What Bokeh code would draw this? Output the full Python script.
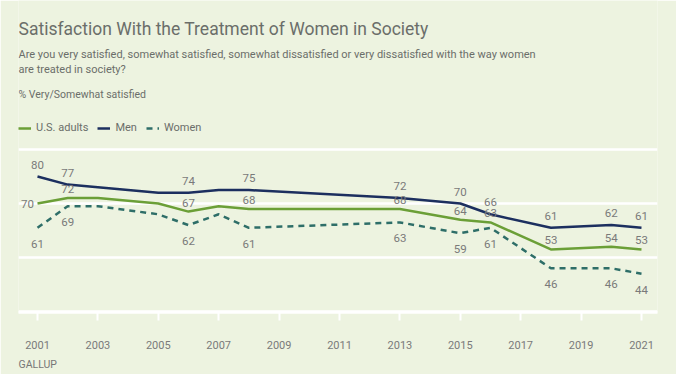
from bokeh.plotting import figure
from bokeh.models import Label, Legend, LegendItem, FixedTicker, Range1d, Title
from bokeh.core.properties import value
from bokeh.embed import file_html
from bokeh.resources import INLINE

# ---- data ----
years = [2001, 2002, 2003, 2005, 2006, 2007, 2008, 2013, 2015, 2016, 2018, 2020, 2021]
us_adults = [70, 72, 72, 70, 67, 69, 68, 68, 64, 63, 53, 54, 53]
men = [80, 77, 76, 74, 74, 75, 75, 72, 70, 66, 61, 62, 61]
women = [61, 69, 69, 66, 62, 66, 61, 63, 59, 61, 46, 46, 44]
labeled_years = [2001, 2002, 2006, 2008, 2013, 2015, 2016, 2018, 2020, 2021]
tick_years = list(range(2001, 2022, 2))
grid_values = [30, 50, 70, 90]

title = "Satisfaction With the Treatment of Women in Society"
subtitle1 = "Are you very satisfied, somewhat satisfied, somewhat dissatisfied or very dissatisfied with the way women"
subtitle2 = "are treated in society?"
measure = "% Very/Somewhat satisfied"
source_note = "GALLUP"

# ---- style ----
BG = "#edf3e0"
GREEN = "#6b9f37"
NAVY = "#1c2f5f"
TEAL = "#2e6e68"
TXT = "#6b6e6a"
LBL = "#7a7a7a"
FONT = "Roboto"
NUMFONT = "Roboto"

W, H = 676, 374
LEFT, RIGHT, BOTTOM = 18, 19, 62
# frame spans from the canvas top down to the axis; y range extended upward
Y_BOTTOM, PX_PER_UNIT = 29.63, 2.7
Y_TOP = Y_BOTTOM + (H - BOTTOM) / PX_PER_UNIT

p = figure(width=W, height=H, output_backend="svg", toolbar_location=None,
           x_range=Range1d(2000.371, 2021.53), y_range=Range1d(Y_BOTTOM, Y_TOP),
           min_border_left=LEFT, min_border_right=RIGHT,
           min_border_top=0, min_border_bottom=BOTTOM,
           background_fill_color=BG, border_fill_color=BG, outline_line_color=None)

p.yaxis.visible = False
p.ygrid.ticker = FixedTicker(ticks=grid_values)
p.ygrid.grid_line_color = "white"
p.ygrid.grid_line_width = 2.5
p.xgrid.grid_line_color = None

xa = p.xaxis[0]
xa.ticker = FixedTicker(ticks=tick_years)
xa.axis_line_color = "white"
xa.axis_line_width = 2.5
xa.major_tick_line_color = "white"
xa.major_tick_line_width = 2
xa.major_tick_in = 0
xa.major_tick_out = 8
xa.minor_tick_line_color = None
xa.major_label_text_font = NUMFONT
xa.major_label_text_font_size = "11px"
xa.major_label_text_color = LBL
xa.major_label_standoff = 20

r_us = p.line(years, us_adults, line_color=GREEN, line_width=2.5)
r_men = p.line(years, men, line_color=NAVY, line_width=2.5)
r_w = p.line(years, women, line_color=TEAL, line_width=2.5, line_dash="6 5")

# data labels
def pick(vals):
    xs, ys = [], []
    for yr, v in zip(years, vals):
        if yr in labeled_years:
            xs.append(yr)
            ys.append(v)
    return xs, ys

lab_kw = dict(text_font=value(NUMFONT), text_font_size="11.5px", text_color=LBL,
              text_align="center", text_baseline="middle")

mx, my = pick(men)
p.text(x=mx, y=my, text=[str(v) for v in my], y_offset=-12, **lab_kw)

ux, uy = pick(us_adults)
p.text(x=ux[1:], y=uy[1:], text=[str(v) for v in uy[1:]], y_offset=-9, **lab_kw)
p.text(x=ux[:1], y=uy[:1], text=[str(v) for v in uy[:1]], x_offset=-10, **lab_kw)

wx, wy = pick(women)
p.text(x=wx, y=wy, text=[str(v) for v in wy], y_offset=16, **lab_kw)

# header texts (screen units relative to frame bottom-left)
def add_text(txt, fx, fy, size, color=TXT, font=FONT, style="normal"):
    p.add_layout(Label(x=fx - LEFT, y=(H - BOTTOM) - fy, x_units="screen", y_units="screen",
                       text=txt, text_font=font, text_font_size=size,
                       text_color=color, text_baseline="middle", text_align="left",
                       text_font_style=style))

add_text(title, 18, 28, "17.5px")
add_text(subtitle1, 18, 54, "11px")
add_text(subtitle2, 18, 69, "11px")
add_text(measure, 18, 94, "10.5px")

legend = Legend(items=[LegendItem(label="U.S. adults", renderers=[r_us]),
                       LegendItem(label="Men", renderers=[r_men]),
                       LegendItem(label="Women", renderers=[r_w])],
                orientation="horizontal", location=(0, (H - BOTTOM) - 127 - 7),
                glyph_width=13, glyph_height=10, label_standoff=5, spacing=9,
                padding=0, margin=0, background_fill_alpha=0, border_line_alpha=0,
                label_text_font=FONT, label_text_font_size="11px", label_text_color=TXT,
                label_height=12)
p.add_layout(legend, "center")

p.add_layout(Title(text=source_note, align="left", text_font=FONT, text_font_size="10.5px",
                   text_font_style="normal", text_color="#777777", standoff=0, offset=0,
                   padding=(0, 4)), "below")

open("out.html", "w").write(file_html(p, INLINE))
